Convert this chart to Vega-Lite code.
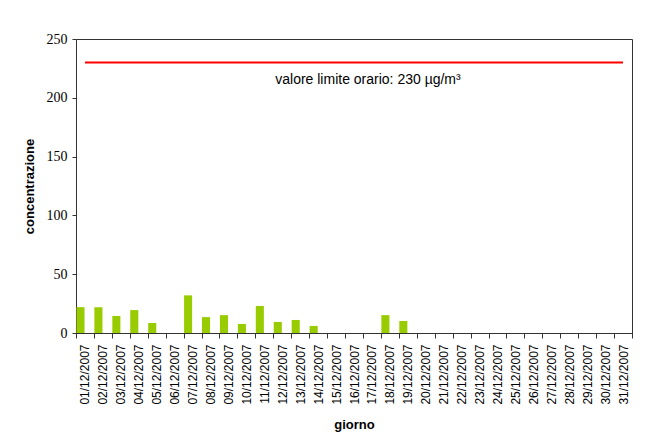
{
  "$schema": "https://vega.github.io/schema/vega-lite/v6.json",
  "width": 556,
  "height": 294,
  "autosize": {"type": "none"},
  "padding": {"left": 76, "top": 39, "right": 35, "bottom": 113},
  "background": "white",
  "config": {
    "view": {"stroke": "#333333", "strokeWidth": 1},
    "axis": {"domainColor": "#333333", "tickColor": "#333333", "labelColor": "black", "titleColor": "black", "grid": false}
  },
  "datasets": {
    "dati": [
      {"giorno": "01/12/2007", "serie": "a", "concentrazione": 22},
      {"giorno": "02/12/2007", "serie": "a", "concentrazione": 22},
      {"giorno": "03/12/2007", "serie": "a", "concentrazione": 14.5},
      {"giorno": "04/12/2007", "serie": "a", "concentrazione": 19.5},
      {"giorno": "05/12/2007", "serie": "a", "concentrazione": 8.5},
      {"giorno": "06/12/2007", "serie": "a", "concentrazione": null},
      {"giorno": "07/12/2007", "serie": "a", "concentrazione": 32},
      {"giorno": "08/12/2007", "serie": "a", "concentrazione": 13.5},
      {"giorno": "09/12/2007", "serie": "a", "concentrazione": 15.2},
      {"giorno": "10/12/2007", "serie": "a", "concentrazione": 7.7},
      {"giorno": "11/12/2007", "serie": "a", "concentrazione": 23},
      {"giorno": "12/12/2007", "serie": "a", "concentrazione": 9.4},
      {"giorno": "13/12/2007", "serie": "a", "concentrazione": 11.1},
      {"giorno": "14/12/2007", "serie": "a", "concentrazione": 6},
      {"giorno": "15/12/2007", "serie": "a", "concentrazione": null},
      {"giorno": "16/12/2007", "serie": "a", "concentrazione": null},
      {"giorno": "17/12/2007", "serie": "a", "concentrazione": null},
      {"giorno": "18/12/2007", "serie": "a", "concentrazione": 15.2},
      {"giorno": "19/12/2007", "serie": "a", "concentrazione": 10.2},
      {"giorno": "20/12/2007", "serie": "a", "concentrazione": null},
      {"giorno": "21/12/2007", "serie": "a", "concentrazione": null},
      {"giorno": "22/12/2007", "serie": "a", "concentrazione": null},
      {"giorno": "23/12/2007", "serie": "a", "concentrazione": null},
      {"giorno": "24/12/2007", "serie": "a", "concentrazione": null},
      {"giorno": "25/12/2007", "serie": "a", "concentrazione": null},
      {"giorno": "26/12/2007", "serie": "a", "concentrazione": null},
      {"giorno": "27/12/2007", "serie": "a", "concentrazione": null},
      {"giorno": "28/12/2007", "serie": "a", "concentrazione": null},
      {"giorno": "29/12/2007", "serie": "a", "concentrazione": null},
      {"giorno": "30/12/2007", "serie": "a", "concentrazione": null},
      {"giorno": "31/12/2007", "serie": "a", "concentrazione": null}
    ],
    "limite": [
      {"giorno_da": "01/12/2007", "giorno_a": "31/12/2007", "valore": 230, "etichetta": "valore limite orario: 230 µg/m³"}
    ]
  },
  "layer": [
    {
      "data": {"name": "dati"},
      "mark": {"type": "bar", "color": "#99CC00"},
      "encoding": {
        "x": {
          "field": "giorno",
          "type": "ordinal",
          "sort": null,
          "scale": {
            "domain": ["01/12/2007","02/12/2007","03/12/2007","04/12/2007","05/12/2007","06/12/2007","07/12/2007","08/12/2007","09/12/2007","10/12/2007","11/12/2007","12/12/2007","13/12/2007","14/12/2007","15/12/2007","16/12/2007","17/12/2007","18/12/2007","19/12/2007","20/12/2007","21/12/2007","22/12/2007","23/12/2007","24/12/2007","25/12/2007","26/12/2007","27/12/2007","28/12/2007","29/12/2007","30/12/2007","31/12/2007"],
            "paddingInner": 0,
            "paddingOuter": 0
          },
          "axis": {
            "title": "giorno",
            "titleFont": "Liberation Sans",
            "titleFontSize": 13,
            "titleFontWeight": "bold",
            "titlePadding": 14,
            "labelAngle": -90,
            "labelAlign": "right",
            "labelBaseline": "middle",
            "labelFont": "Liberation Sans",
            "labelFontSize": 12,
            "labelPadding": 6,
            "labelOverlap": false,
            "tickBand": "extent",
            "tickSize": 5
          }
        },
        "xOffset": {
          "field": "serie",
          "scale": {"domain": ["a", "b"], "paddingInner": 0.1, "paddingOuter": 0.05}
        },
        "y": {
          "field": "concentrazione",
          "type": "quantitative",
          "scale": {"domain": [0, 250], "nice": false},
          "axis": {
            "title": "concentrazione",
            "titleFont": "Liberation Sans",
            "titleFontSize": 13,
            "titleFontWeight": "bold",
            "titlePadding": 10,
            "values": [0, 50, 100, 150, 200, 250],
            "labelFont": "Liberation Serif",
            "labelFontSize": 14,
            "labelPadding": 5,
            "tickSize": 4
          }
        }
      }
    },
    {
      "data": {"name": "limite"},
      "mark": {"type": "rule", "color": "#FF0000", "strokeWidth": 2},
      "encoding": {
        "x": {"field": "giorno_da", "type": "ordinal"},
        "x2": {"field": "giorno_a"},
        "y": {"field": "valore", "type": "quantitative"}
      }
    },
    {
      "data": {"name": "limite"},
      "mark": {"type": "text", "font": "Liberation Sans", "fontSize": 14, "color": "black", "baseline": "middle", "align": "center", "dy": 17, "dx": 5},
      "encoding": {
        "x": {"datum": "16/12/2007", "bandPosition": 1},
        "y": {"field": "valore", "type": "quantitative"},
        "text": {"field": "etichetta"}
      }
    }
  ]
}
